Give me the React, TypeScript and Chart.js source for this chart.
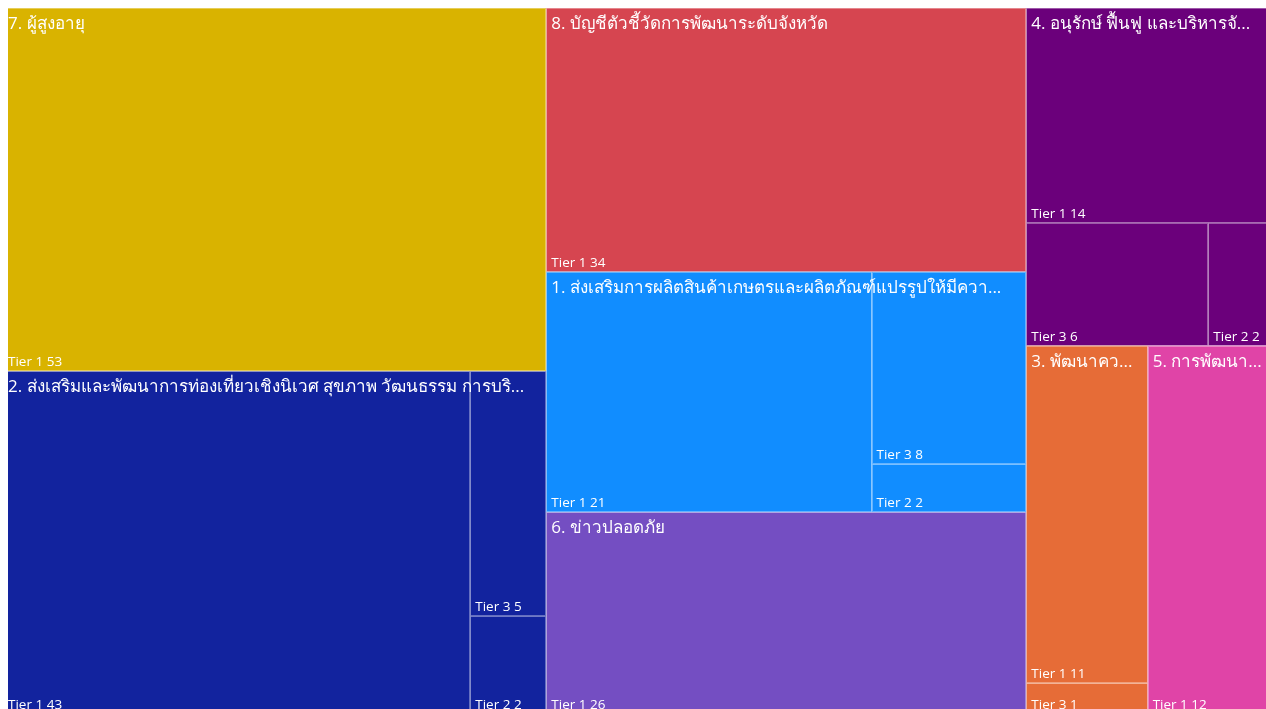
import React, { useEffect, useRef } from 'react';
import { Chart, registerables } from 'chart.js';

Chart.register(...registerables);

// ---- data ----
const groupLabels = [
  '1. ส่งเสริมการผลิตสินค้าเกษตรและผลิตภัณฑ์แปรรูปให้มีควา...',
  '2. ส่งเสริมและพัฒนาการท่องเที่ยวเชิงนิเวศ สุขภาพ วัฒนธรรม การบริ...',
  '3. พัฒนาคว...',
  '4. อนุรักษ์ ฟื้นฟู และบริหารจั...',
  '5. การพัฒนา...',
  '6. ข่าวปลอดภัย',
  '7. ผู้สูงอายุ',
  '8. บัญชีตัวชี้วัดการพัฒนาระดับจังหวัด',
];
const tierLabels = ['Tier 1', 'Tier 2', 'Tier 3'];
const tier1Values = [21, 43, 11, 14, 12, 26, 53, 34];
const tier2Values = [2, 2, 0, 2, 0, 0, 0, 0];
const tier3Values = [8, 5, 1, 6, 0, 0, 0, 0];

// ---- styles ----
const palette = ['#118DFF', '#12239E', '#E66C37', '#6B007B', '#E044A7', '#744EC2', '#D9B300', '#D64550'];
const FONT = '"Segoe UI", "Open Sans", "Noto Sans", sans-serif';

type TNode = {
  label: string;
  value: number;
  color: string;
  x0: number; y0: number; x1: number; y1: number;
  children: TNode[];
};

const PHI = (1 + Math.sqrt(5)) / 2;

function squarify(nodes: TNode[], total: number, x0: number, y0: number, x1: number, y1: number, sx: number, sy: number) {
  let value = total;
  let i0 = 0;
  let i1 = 0;
  const n = nodes.length;
  while (i0 < n) {
    const dx = (x1 - x0) * sx;
    const dy = (y1 - y0) * sy;
    let sumValue = nodes[i1++].value;
    let minV = sumValue;
    let maxV = sumValue;
    const alpha = Math.max(dy / dx, dx / dy) / (value * PHI);
    let beta = sumValue * sumValue * alpha;
    let minRatio = Math.max(maxV / beta, beta / minV);
    for (; i1 < n; ++i1) {
      const nv = nodes[i1].value;
      sumValue += nv;
      if (nv < minV) minV = nv;
      if (nv > maxV) maxV = nv;
      beta = sumValue * sumValue * alpha;
      const nr = Math.max(maxV / beta, beta / minV);
      if (nr > minRatio) { sumValue -= nv; break; }
      minRatio = nr;
    }
    const row = nodes.slice(i0, i1);
    if (dx < dy) {
      const ny = y0 + (y1 - y0) * sumValue / value;
      let cx = x0;
      for (const c of row) {
        const w = (x1 - x0) * c.value / sumValue;
        c.x0 = cx; c.x1 = cx + w; c.y0 = y0; c.y1 = ny;
        cx += w;
      }
      y0 = ny;
    } else {
      const nx = x0 + (x1 - x0) * sumValue / value;
      let cy = y0;
      for (const c of row) {
        const h = (y1 - y0) * c.value / sumValue;
        c.x0 = x0; c.x1 = nx; c.y0 = cy; c.y1 = cy + h;
        cy += h;
      }
      x0 = nx;
    }
    value -= sumValue;
    i0 = i1;
  }
}

function buildTree(): TNode[] {
  const series = [tier1Values, tier2Values, tier3Values];
  const groups: TNode[] = groupLabels.map((g, gi) => {
    const children: TNode[] = [];
    series.forEach((s, ti) => {
      if (s[gi] > 0) {
        children.push({ label: tierLabels[ti] + ' ' + s[gi], value: s[gi], color: palette[gi], x0: 0, y0: 0, x1: 0, y1: 0, children: [] });
      }
    });
    children.sort((a, b) => b.value - a.value);
    const value = children.reduce((a, c) => a + c.value, 0);
    return { label: g, value, color: palette[gi], x0: 0, y0: 0, x1: 0, y1: 0, children };
  });
  groups.sort((a, b) => b.value - a.value);
  return groups;
}

function fitText(ctx: CanvasRenderingContext2D, text: string, maxW: number) {
  if (ctx.measureText(text).width <= maxW) return text;
  let base = text.replace(/\.\.\.$/, '');
  while (base.length > 0 && ctx.measureText(base + '...').width > maxW) {
    base = base.slice(0, -1);
  }
  return base + '...';
}

const treemapPlugin = {
  id: 'treemapCells',
  afterDatasetsDraw(chart: any) {
    const { ctx } = chart;
    const xs = chart.scales.x;
    const ys = chart.scales.y;
    const px = (v: number) => xs.getPixelForValue(v);
    const py = (v: number) => ys.getPixelForValue(v);
    const sx = Math.abs(px(1) - px(0));
    const sy = Math.abs(py(1) - py(0));
    const groups = buildTree();
    const total = groups.reduce((a, g) => a + g.value, 0);
    squarify(groups, total, 0, 0, 1, 1, sx, sy);
    groups.forEach((g) => squarify(g.children, g.value, g.x0, g.y0, g.x1, g.y1, sx, sy));

    ctx.save();
    // fills
    groups.forEach((g) => {
      g.children.forEach((c) => {
        ctx.fillStyle = c.color;
        ctx.fillRect(px(c.x0), py(c.y0), px(c.x1) - px(c.x0), py(c.y1) - py(c.y0));
      });
    });
    // leaf labels
    ctx.fillStyle = '#FFFFFF';
    ctx.textBaseline = 'alphabetic';
    ctx.textAlign = 'left';
    groups.forEach((g) => {
      g.children.forEach((c) => {
        const l = px(c.x0), t = py(c.y0), r = px(c.x1), b = py(c.y1);
        ctx.save();
        ctx.beginPath();
        ctx.rect(l, t, r - l, b - t);
        ctx.clip();
        ctx.font = `13.5px ${FONT}`;
        ctx.fillText(fitText(ctx, c.label, r - l - 6), l + 5, b - 5);
        ctx.restore();
      });
    });
    // group labels
    groups.forEach((g) => {
      const l = px(g.x0), t = py(g.y0), r = px(g.x1), b = py(g.y1);
      ctx.save();
      ctx.beginPath();
      ctx.rect(l, t, r - l, b - t);
      ctx.clip();
      ctx.font = `17px ${FONT}`;
      ctx.fillStyle = '#FFFFFF';
      ctx.fillText(fitText(ctx, g.label, r - l - 8), l + 5, t + 21);
      ctx.restore();
    });
    // borders
    ctx.strokeStyle = 'rgba(255,255,255,0.35)';
    ctx.lineWidth = 1;
    groups.forEach((g) => {
      g.children.forEach((c) => {
        const l = Math.round(px(c.x0)) + 0.5, t = Math.round(py(c.y0)) + 0.5;
        const r = Math.round(px(c.x1)) - 0.5, b = Math.round(py(c.y1)) - 0.5;
        ctx.strokeRect(l, t, r - l, b - t);
      });
    });
    ctx.restore();
  },
};

export default function App() {
  const ref = useRef<HTMLCanvasElement | null>(null);
  useEffect(() => {
    if (!ref.current) return;
    const chart = new Chart(ref.current, {
      type: 'scatter',
      data: { datasets: [{ data: [], pointRadius: 0 }] },
      options: {
        animation: false,
        responsive: false,
        layout: { padding: 0 },
        plugins: { legend: { display: false }, tooltip: { enabled: false } },
        scales: {
          x: { type: 'linear', min: 0, max: 1, display: false },
          y: { type: 'linear', min: 0, max: 1, reverse: true, display: false },
        },
      },
      plugins: [treemapPlugin],
    });
    return () => chart.destroy();
  }, []);
  return (
    <div style={{ position: 'fixed', left: 8, top: 8, width: 1258, height: 701, overflow: 'hidden' }}>
      <div style={{ position: 'absolute', left: -5, top: 0, width: 1266, height: 706 }}>
        <canvas ref={ref} width={1266} height={706} style={{ width: 1266, height: 706, display: 'block' }} />
      </div>
    </div>
  );
}
